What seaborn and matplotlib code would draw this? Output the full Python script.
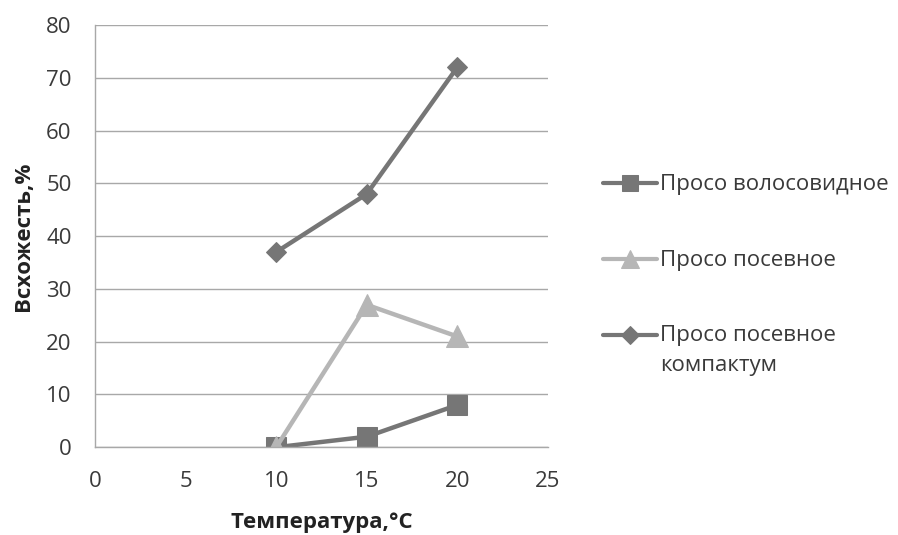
import numpy as np
import matplotlib.pyplot as plt
import pandas as pd
import seaborn as sns

# data
temps = [10, 15, 20]
volosovidnoe = [0, 2, 8]
posevnoe = [0, 27, 21]
kompaktum = [37, 48, 72]
series_names = ["Просо волосовидное", "Просо посевное", "Просо посевное\nкомпактум"]

df = pd.DataFrame({
    "temp": temps * 3,
    "value": volosovidnoe + posevnoe + kompaktum,
    "series": [series_names[0]] * 3 + [series_names[1]] * 3 + [series_names[2]] * 3,
})

sns.set_style("white")
plt.rcParams["font.family"] = ["Open Sans", "DejaVu Sans"]
plt.rcParams["font.size"] = 16

dark = "#767676"
light = "#b6b6b6"
txt = "#3a3a3a"
grid_c = "#a8a8a8"
palette = {series_names[0]: dark, series_names[1]: light, series_names[2]: dark}
markers = {series_names[0]: "s", series_names[1]: "^", series_names[2]: "D"}
sizes = {series_names[0]: 14, series_names[1]: 15.5, series_names[2]: 10}
leg_sizes = [12, 13, 9]

fig = plt.figure(figsize=(8.98, 5.35), dpi=100)
ax = fig.add_axes([0.106, 0.164, 0.504, 0.789])

for name in series_names:
    sub = df[df["series"] == name]
    sns.lineplot(data=sub, x="temp", y="value", ax=ax, color=palette[name],
                 marker=markers[name], markersize=sizes[name],
                 markeredgecolor=palette[name], linewidth=3.2, label=name)

ax.set_xlim(0, 25)
ax.set_ylim(0, 80)
ax.set_xticks(np.arange(0, 26, 5))
ax.set_yticks(np.arange(0, 81, 10))
ax.grid(axis="y", color=grid_c, linewidth=1)
ax.set_axisbelow(True)
for s in ["top", "right"]:
    ax.spines[s].set_visible(False)
for s in ["left", "bottom"]:
    ax.spines[s].set_color(grid_c)
    ax.spines[s].set_linewidth(1)
ax.tick_params(axis="both", direction="out", length=6, width=1, color=grid_c,
               labelsize=16, labelcolor=txt)
ax.tick_params(axis="x", pad=11)
ax.tick_params(axis="y", pad=11)
ax.set_xlabel("Температура,°C", fontsize=16, fontweight="bold", color="#222222")
ax.set_ylabel("Всхожесть,%", fontsize=16, fontweight="bold", color="#222222")
ax.xaxis.set_label_coords(0.5, -0.154)
ax.yaxis.set_label_coords(-0.135, 0.5)

leg = ax.legend(loc="upper left", bbox_to_anchor=(1.121, 0.647), frameon=False,
                handlelength=2.43, handletextpad=0.14, labelspacing=2.41,
                handleheight=1.15, fontsize=16, borderaxespad=0.0, borderpad=0.0)
for t in leg.get_texts():
    t.set_color(txt)
    t.set_linespacing(1.55)
for h, ms in zip(leg.legend_handles, leg_sizes):
    h.set_markersize(ms)
    h.set_linewidth(3)
# keep the handle next to the first line of a two-line label
for col in leg._legend_handle_box.get_children():
    for row in col.get_children():
        row.align = "top"

fig.savefig("out.png", dpi=100)
